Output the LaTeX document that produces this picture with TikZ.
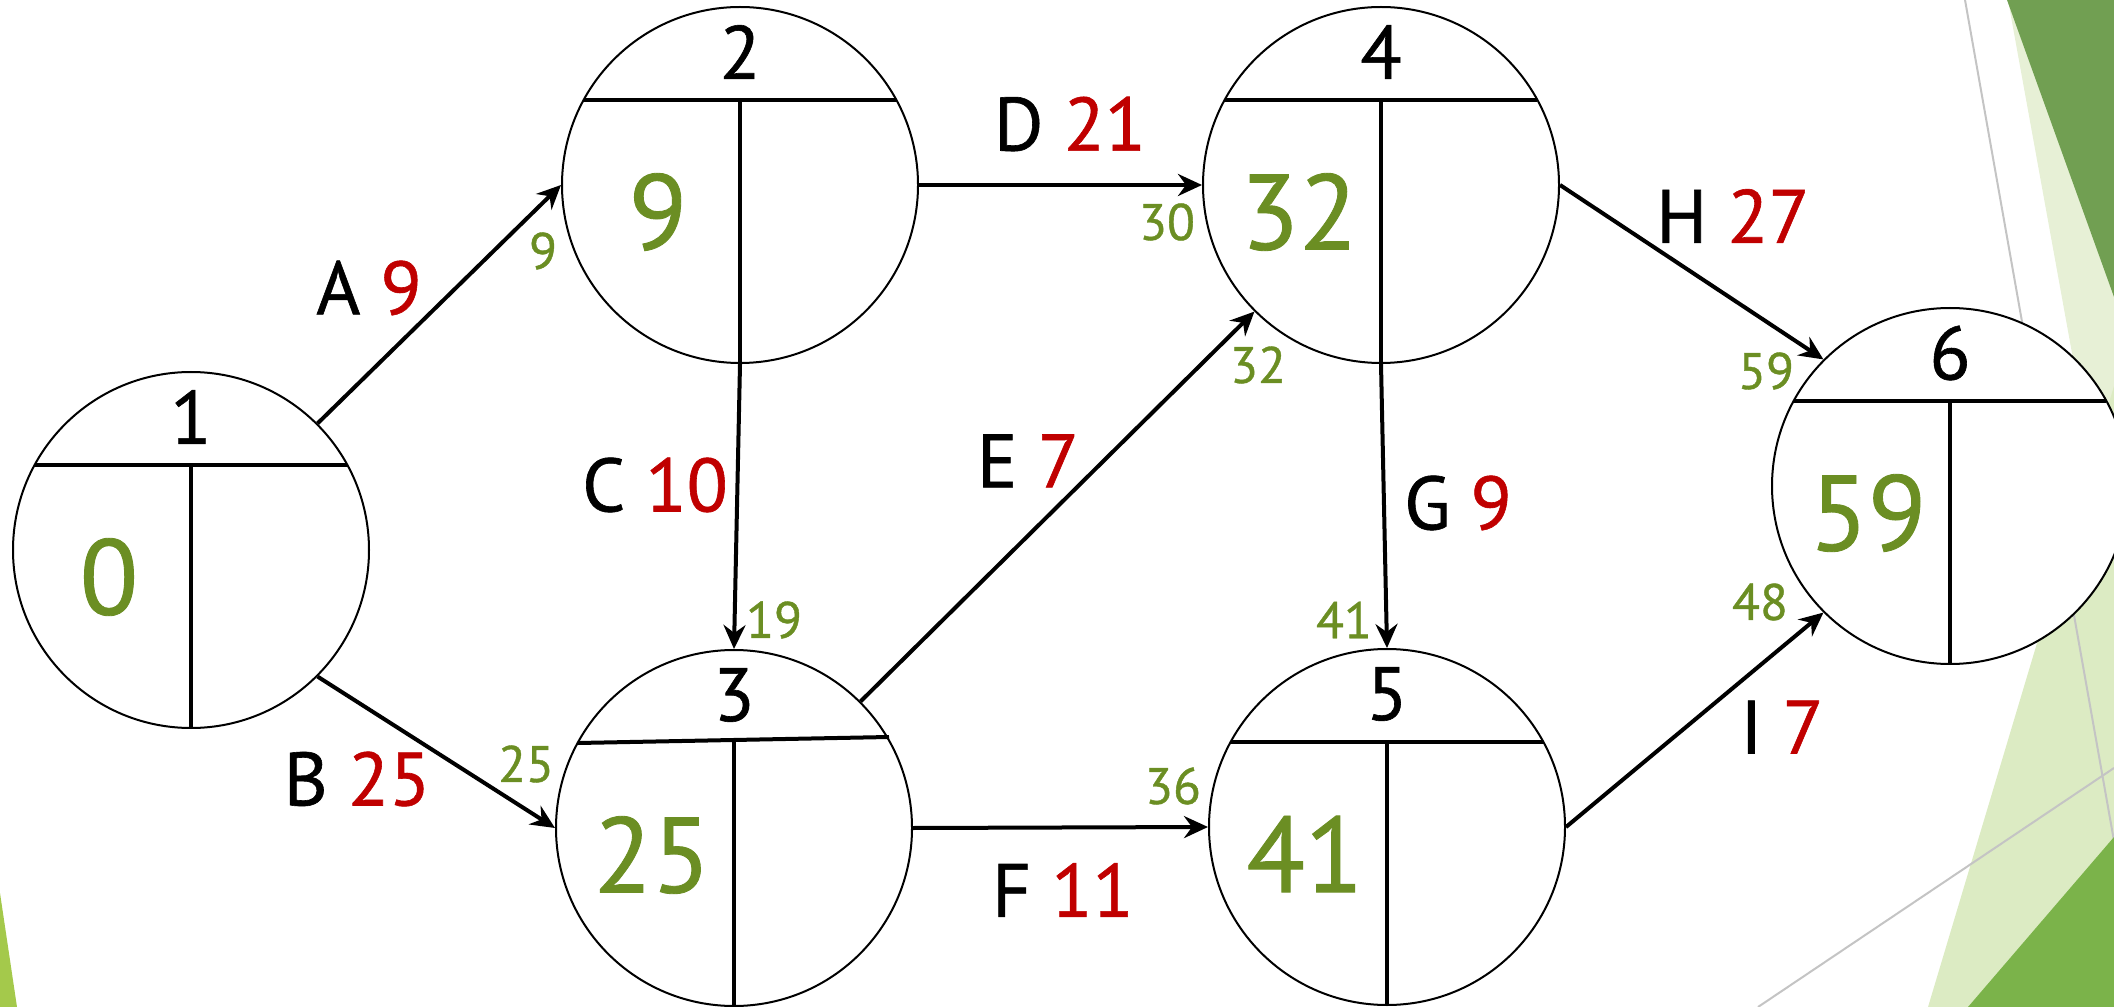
\documentclass[tikz,border=0pt]{standalone}
\usepackage{fontspec}
\setmainfont{PT Sans}[FakeBold=0.8]
\usetikzlibrary{arrows.meta, calc, positioning}
\definecolor{netGreen}{HTML}{6B8E23}
\definecolor{netRed}{HTML}{C00000}
\definecolor{bgDark}{HTML}{719F52}
\definecolor{bgPale}{HTML}{E7F0D6}
\definecolor{bgLight}{HTML}{DCEBC3}
\definecolor{bgMid}{HTML}{7BB34A}
\definecolor{bgLime}{HTML}{A4C94B}
\definecolor{bgLine}{HTML}{C4C4C4}
\tikzset{
  event/.style={draw, circle, fill=white, line width=0.2mm, minimum size=35.6mm, inner sep=0pt},
  divline/.style={line width=0.4mm},
  activity/.style={-{Stealth[length=2.4mm, width=2.2mm, inset=0.8mm]}, line width=0.4mm},
  evnum/.style={font=\fontsize{21.5}{24}\selectfont, inner sep=0pt},
  evtime/.style={font=\fontsize{30.5}{34}\selectfont, text=netGreen, inner sep=0pt},
  actlabel/.style={font=\fontsize{21.5}{24}\selectfont, inner sep=0pt},
  arrtime/.style={font=\fontsize{14.6}{16}\selectfont, text=netGreen, inner sep=0pt},
  facetline/.style={bgLine, line width=0.2mm}
}

\begin{document}
\begin{tikzpicture}[x=0.1mm, y=-0.1mm]
  \useasboundingbox (0,0) rectangle (2114,1007);
  % background facets
  \fill[bgLime] (0,893) -- (17,1007) -- (0,1007) -- cycle;
  \fill[bgPale] (2008,0) -- (2114,585) -- (2114,0) -- cycle;
  \fill[bgDark] (2007,0) -- (2114,297) -- (2114,0) -- cycle;
  \fill[bgLight] (1928,1007) -- (2114,386) -- (2114,1007) -- cycle;
  \draw[facetline] (1965,0) -- (2114,841);
  \draw[facetline] (1758,1007) -- (2114,768);
  \fill[bgMid] (1968,1007) -- (2114,837) -- (2114,1007) -- cycle;

  % events
  \node[event] (n1) at (191,550) {};
  \node[event] (n2) at (740,185) {};
  \node[event] (n3) at (734,828) {};
  \node[event] (n4) at (1381,185) {};
  \node[event] (n5) at (1387,827) {};
  \node[event] (n6) at (1950,486) {};

  \foreach \n in {n1,n2,n4,n5,n6} {
    \draw[divline] ($(\n)+(-156,-85)$) -- ($(\n)+(156,-85)$);
    \draw[divline] ($(\n)+(0,-85)$) -- (\n.south);
  }
  \draw[divline] ($(n3)+(-156,-85)$) -- ($(n3)+(155,-91)$);
  \draw[divline] ($(n3)+(0,-87)$) -- (n3.south);

  \foreach \n/\k/\v in {n1/1/0, n2/2/9, n3/3/25, n4/4/32, n5/5/41, n6/6/59} {
    \node[evnum] (\n-num) at ($(\n)+(0,-133)$) {\k};
    \node[evtime] (\n-time) at ($(\n)+(-82,27)$) {\v};
  }

  % activities
  \draw[activity] (n1.45) -- (n2.west);
  \draw[activity] (n1.-45) -- (n3.west);
  \draw[activity] (n2.south) -- (n3.north);
  \draw[activity] (n2.east) -- (n4.west);
  \draw[activity] (n3.45) -- (n4.225);
  \draw[activity] (n3.east) -- (n5.west);
  \draw[activity] (n4.south) -- (n5.north);
  \draw[activity] (n4.east) -- (n6.135);
  \draw[activity] (n5.east) -- (n6.225);

  \node[actlabel] (lA) at (369,288) {A \textcolor{netRed}{9}};
  \node[actlabel] (lB) at (357,779) {B \textcolor{netRed}{25}};
  \node[actlabel] (lC) at (655,485) {C \textcolor{netRed}{10}};
  \node[actlabel] (lD) at (1070,124) {D \textcolor{netRed}{21}};
  \node[actlabel] (lE) at (1028,461) {E \textcolor{netRed}{7}};
  \node[actlabel] (lF) at (1063,890) {F \textcolor{netRed}{11}};
  \node[actlabel] (lG) at (1458,503) {G \textcolor{netRed}{9}};
  \node[actlabel] (lH) at (1733,216) {H \textcolor{netRed}{27}};
  \node[actlabel] (lI) at (1782,727) {I \textcolor{netRed}{7}};

  % arrival times
  \node[arrtime] (tA) at (543,251) {9};
  \node[arrtime] (tB) at (526,764) {25};
  \node[arrtime] (tC) at (774,620) {19};
  \node[arrtime] (tD) at (1167,222) {30};
  \node[arrtime] (tE) at (1258,365) {32};
  \node[arrtime] (tG) at (1344,620) {41};
  \node[arrtime] (tF) at (1173,786) {36};
  \node[arrtime] (tH) at (1766,371) {59};
  \node[arrtime] (tI) at (1760,602) {48};
\end{tikzpicture}
\end{document}
